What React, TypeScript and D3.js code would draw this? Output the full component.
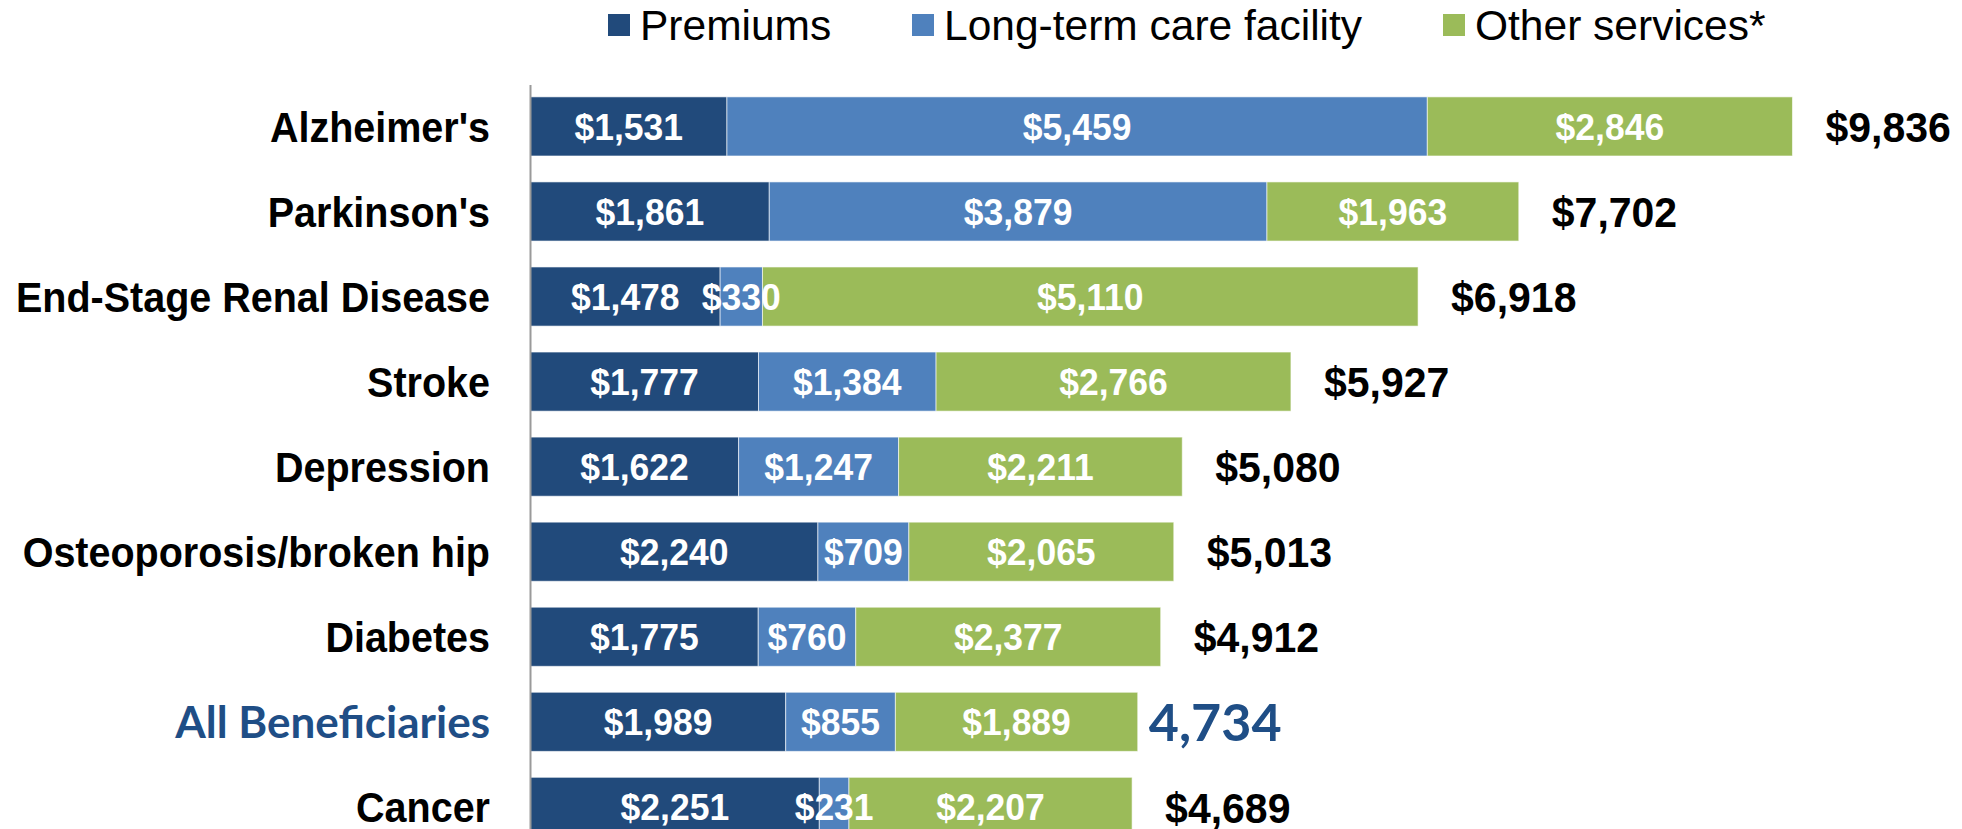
import React, { useEffect, useRef } from 'react';
import * as d3 from 'd3';

const categories = [
  "Alzheimer's",
  "Parkinson's",
  'End-Stage Renal Disease',
  'Stroke',
  'Depression',
  'Osteoporosis/broken hip',
  'Diabetes',
  'All Beneficiaries',
  'Cancer',
];
const premiums = [1531, 1861, 1478, 1777, 1622, 2240, 1775, 1989, 2251];
const longTermCare = [5459, 3879, 330, 1384, 1247, 709, 760, 855, 231];
const otherServices = [2846, 1963, 5110, 2766, 2211, 2065, 2377, 1889, 2207];
const totalLabels = ['$9,836', '$7,702', '$6,918', '$5,927', '$5,080', '$5,013', '$4,912', '4,734', '$4,689'];

const seriesNames = ['Premiums', 'Long-term care facility', 'Other services*'];
const seriesColors = ['#214a7b', '#4f81bd', '#9bbb59'];

const W = 1962;
const H = 829;
const ARIAL = "Arial, 'Liberation Sans', sans-serif";
const CALIBRI = "Lato, 'Open Sans', sans-serif";
const HIGHLIGHT = 'All Beneficiaries';
const STRETCH = 1.06; // text in the source is a little taller than plain Arial

const App = () => {
  const ref = useRef<SVGSVGElement>(null);

  useEffect(() => {
    const svg = d3.select(ref.current);
    svg.selectAll('*').remove();

    const x0 = 530.5;
    const x = d3.scaleLinear().domain([0, 10000]).range([x0, x0 + 1283]);
    const y = d3
      .scaleBand()
      .domain(categories)
      .range([83.9, 849.4])
      .paddingInner(0.305)
      .paddingOuter(0.1525);
    const cy = (c: string) => y(c)! + y.bandwidth() / 2;

    const rows = categories.map((c, i) => ({
      cat: c,
      vals: [premiums[i], longTermCare[i], otherServices[i]],
      label: totalLabels[i],
    }));

    const stack = d3
      .stack<any>()
      .keys(['0', '1', '2'])
      .value((d, k) => d.vals[+k]);
    const layers = stack(rows);

    // bars
    layers.forEach((layer, li) => {
      svg
        .append('g')
        .selectAll('rect')
        .data(layer)
        .enter()
        .append('rect')
        .attr('x', d => x(d[0]))
        .attr('y', d => y(d.data.cat)!)
        .attr('width', d => x(d[1]) - x(d[0]))
        .attr('height', y.bandwidth())
        .attr('fill', seriesColors[li])
        .attr('stroke', 'rgba(255,255,255,0.6)')
        .attr('stroke-width', 1);
    });

    // value labels
    layers.forEach(layer => {
      svg
        .append('g')
        .selectAll('text')
        .data(layer)
        .enter()
        .append('text')
        .attr('transform', d => `translate(${(x(d[0]) + x(d[1])) / 2},${cy(d.data.cat)}) scale(1,${STRETCH})`)
        .attr('dy', '0.36em')
        .attr('text-anchor', 'middle')
        .attr('font-family', ARIAL)
        .attr('font-weight', 'bold')
        .attr('font-size', 35.5)
        .attr('fill', '#fff')
        .text(d => '$' + d3.format(',')(d[1] - d[0]));
    });

    // totals
    const last = layers[layers.length - 1];
    svg
      .append('g')
      .selectAll('text')
      .data(last)
      .enter()
      .append('text')
      .attr('transform', d => {
        const hl = d.data.cat === HIGHLIGHT;
        return `translate(${x(d[1]) + (hl ? 11 : 33)},${cy(d.data.cat)}) scale(1,${hl ? 1 : STRETCH})`;
      })
      .attr('dy', '0.36em')
      .attr('font-family', d => (d.data.cat === HIGHLIGHT ? CALIBRI : ARIAL))
      .attr('font-weight', 'bold')
      .attr('font-size', d => (d.data.cat === HIGHLIGHT ? 52 : 41))
      .attr('fill', d => (d.data.cat === HIGHLIGHT ? '#1f4e86' : '#000'))
      .text(d => d.data.label);

    // category labels
    svg
      .append('g')
      .selectAll('text')
      .data(categories)
      .enter()
      .append('text')
      .attr('transform', d => `translate(490,${cy(d)}) scale(1,${d === HIGHLIGHT ? 1 : STRETCH})`)
      .attr('dy', '0.36em')
      .attr('text-anchor', 'end')
      .attr('font-family', d => (d === HIGHLIGHT ? CALIBRI : ARIAL))
      .attr('font-weight', 'bold')
      .attr('font-size', d => (d === HIGHLIGHT ? 44 : 39.5))
      .attr('fill', d => (d === HIGHLIGHT ? '#1f4e86' : '#000'))
      .text(d => d);

    // axis line
    svg
      .append('line')
      .attr('x1', x0)
      .attr('x2', x0)
      .attr('y1', 85)
      .attr('y2', H)
      .attr('stroke', '#9a9a9a')
      .attr('stroke-width', 2);

    // legend
    const legendX = [608, 912, 1443];
    const legend = svg
      .append('g')
      .selectAll('g')
      .data(seriesNames)
      .enter()
      .append('g')
      .attr('transform', (d, i) => `translate(${legendX[i]}, 14)`);
    legend
      .append('rect')
      .attr('width', 22)
      .attr('height', 22)
      .attr('fill', (d, i) => seriesColors[i]);
    legend
      .append('text')
      .attr('x', 32)
      .attr('y', 11)
      .attr('dy', '0.36em')
      .attr('font-family', ARIAL)
      .attr('font-size', 42.5)
      .attr('fill', '#000')
      .text(d => d);
  }, []);

  return (
    <svg
      ref={ref}
      width={W}
      height={H}
      style={{ position: 'absolute', left: 0, top: 0, background: '#fff' }}
    />
  );
};

export default App;
